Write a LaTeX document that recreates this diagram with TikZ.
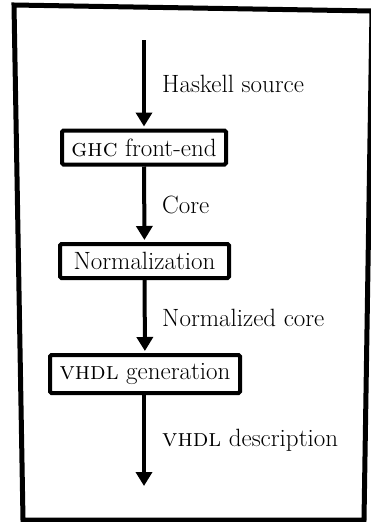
\documentclass[tikz,border=0pt]{standalone}
\usepackage{amsmath}
\usepackage{xcolor}
\usetikzlibrary{arrows.meta}
\usetikzlibrary{positioning}

\begin{document}
\begin{tikzpicture}[x=1pt,y=-1pt,
	every node/.style={font=\fontsize{25}{29}\selectfont},
	stage/.style={draw,line width=4pt,rounded corners=1.5pt,inner sep=0pt,minimum height=34pt},
	flow/.style={line width=4pt,-{Triangle[width=16pt,length=14pt]},shorten >=2pt},
	tag/.style={anchor=west,inner sep=0pt}]
	\useasboundingbox (0,0) rectangle (370,522);
	\draw[line width=5pt,line join=miter] (14,5) -- (372,11) -- (364,520) -- (23,520) -- cycle;
	
	\coordinate (src) at (144,40);
	\node[stage,minimum width=164pt] (ghc) at (144,147.5) {\textsc{ghc} front-end};
	\node[stage,minimum width=169pt] (norm) at (144.5,261) {Normalization};
	\node[stage,minimum width=190pt,minimum height=38pt] (gen) at (145,374) {\textsc{vhdl} generation};
	\coordinate (out) at (144,486);
	
	\draw[flow] (src) -- (ghc);
	\draw[flow] (ghc) -- (norm);
	\draw[flow] (norm) -- (gen);
	\draw[flow,shorten >=0pt] (gen.south -| out) -- (out);
	
	\node[tag] (lsrc) at (162,84) {Haskell source};
	\node[tag] (lcore) at (162,205) {Core};
	\node[tag] (lnorm) at (162,318) {Normalized core};
	\node[tag] (lvhdl) at (162,440) {\textsc{vhdl} description};
	
\end{tikzpicture}
\end{document}
